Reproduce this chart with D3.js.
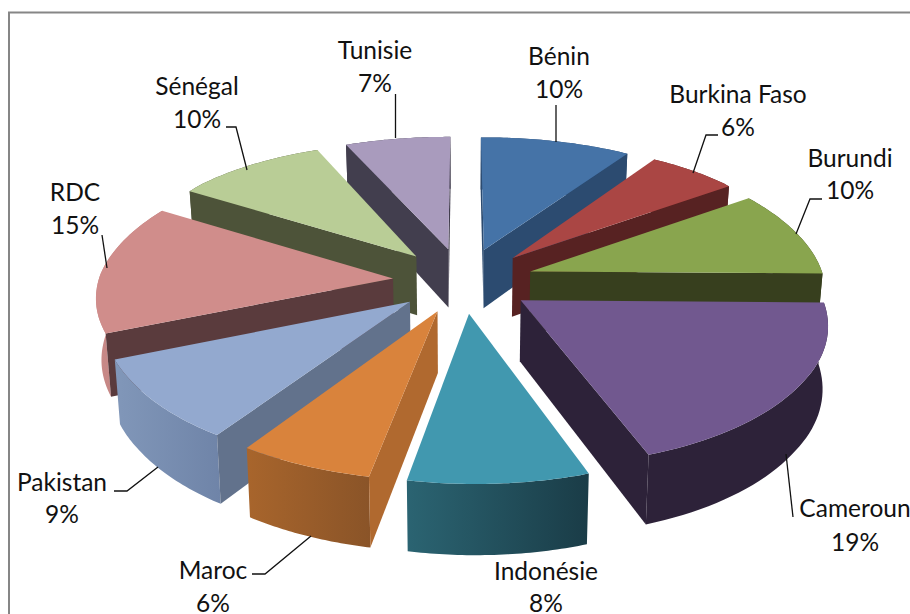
<!DOCTYPE html>
<html><head><meta charset="utf-8">
<script src="https://cdn.jsdelivr.net/npm/d3@7"></script>
<style>html,body{margin:0;padding:0;background:#fff;overflow:hidden}svg{display:block}text{font-family:Lato,"Open Sans",sans-serif;font-size:24.5px;fill:#111;text-anchor:middle}</style>
</head><body><svg id="c" width="910" height="614"></svg>
<script>
const categories=["Bénin","Burkina Faso","Burundi","Cameroun","Indonésie","Maroc","Pakistan","RDC","Sénégal","Tunisie"];
const shares=[10,6,10,19,8,6,9,15,10,7];
const topColors=["#4573a7","#aa4644","#89a54e","#71588f","#4198af","#d9833c","#93a9cf","#d08d8b","#b9cd96","#a99bbd"];
const rimFrom=["#2c4b70","#572222","#373f1e","#2d2239","#2b6472","#a8652c","#8197b9","#c98a88","#4d5339","#423e4e"];
const rimTo=["#2c4b70","#572222","#373f1e","#2d2239","#1a3c47","#8a5428","#6f84a8","#b87c7b","#4d5339","#423e4e"];
const edgeColors=["#2c4b70","#572222","#373f1e","#2d2239","#27606e","#b0692f","#62728c","#5a3b3d","#4d5339","#423e4e"];
const drawOrder=[9,0,8,1,7,2,6,3,5,4];
const labelLayout=[
 {x:559,y:[65,98],l:[[556,105],[556,142]]},
 {x:738,y:[103,136],l:[[718,135],[706,135],[693,173]]},
 {x:850,y:[167,199],l:[[822,199],[810,199],[796,234]]},
 {x:855,y:[517,551],l:[[786,454],[793,517]]},
 {x:546,y:[580,612],l:[]},
 {x:213,y:[579,612],l:[[252,574],[265,574],[311,536]]},
 {x:62,y:[491,523],l:[[114,491],[127,491],[158,467]]},
 {x:75,y:[201,234],l:[[102,235],[107,268]]},
 {x:197,y:[95,128],l:[[226,127],[236,127],[247,170]]},
 {x:375,y:[59,92],l:[[395.5,94],[395.5,138]]}
];
const P={cx:463,cy:280,Rx:292,Ry:136,px:0.17,py:0.14,e:0.24,h:60,inset:0.985,shear:6,bend:7};
const svg=d3.select("#c");
svg.append("path").attr("d","M9 620V12.5H920").attr("fill","none").attr("stroke","#868686").attr("stroke-width",2);
const defs=svg.append("defs");
const pie=d3.pie().sort(null).value(d=>d)(shares);
const slices=pie.map((a,i)=>({i,a0:a.startAngle,a1:a.endAngle,mid:(a.startAngle+a.endAngle)/2}));
function proj(s,ang,r,bottom){
  const X=P.e*Math.sin(s.mid)+r*Math.sin(ang), Y=-(P.e*Math.cos(s.mid)+r*Math.cos(ang));
  const fx=1/(1-P.px*Y), fy=1/(1-P.py*Y);
  let x=X*P.Rx*fx+P.shear*Math.max(0,Y), y=Y*P.Ry*fy-P.bend*Math.min(1,X*X);
  if(bottom){x*=P.inset;y+=P.h*Math.pow(fy,0.9);}
  return [P.cx+x,P.cy+y];
}
const line=d3.line();
const closed=pts=>line(pts)+"Z";
drawOrder.forEach(i=>{
  const s=slices[i];
  const as=d3.range(0,41).map(t=>s.a0+(s.a1-s.a0)*t/40);
  const g=svg.append("g");
  const gid="rim"+i;
  const lg=defs.append("linearGradient").attr("id",gid).attr("x1",0).attr("x2",1).attr("y1",0).attr("y2",0);
  lg.append("stop").attr("offset",0).attr("stop-color",rimFrom[i]);
  lg.append("stop").attr("offset",1).attr("stop-color",rimTo[i]);
  const topRim=as.map(a=>proj(s,a,1,false)), botRim=as.map(a=>proj(s,a,1,true));
  g.append("path").attr("d",closed(topRim.concat(botRim.slice().reverse()))).attr("fill",`url(#${gid})`);
  [[s.a0,-1],[s.a1,1]].forEach(([a,sign])=>{
    const q=[proj(s,0,0,false),proj(s,a,1,false),proj(s,a,1,true),proj(s,0,0,true)];
    if(d3.polygonArea(q)*sign<0) g.append("path").attr("d",closed(q)).attr("fill",edgeColors[i]);
  });
  g.append("path").attr("d",closed([proj(s,0,0,false)].concat(topRim))).attr("fill",topColors[i]);
});
labelLayout.forEach((L,i)=>{
  if(L.l.length) svg.append("path").attr("d",line(L.l)).attr("fill","none").attr("stroke","#111").attr("stroke-width",1.3);
  svg.append("text").attr("x",L.x).attr("y",L.y[0]).text(categories[i]);
  svg.append("text").attr("x",L.x).attr("y",L.y[1]).text(shares[i]+"%");
});
</script></body></html>
